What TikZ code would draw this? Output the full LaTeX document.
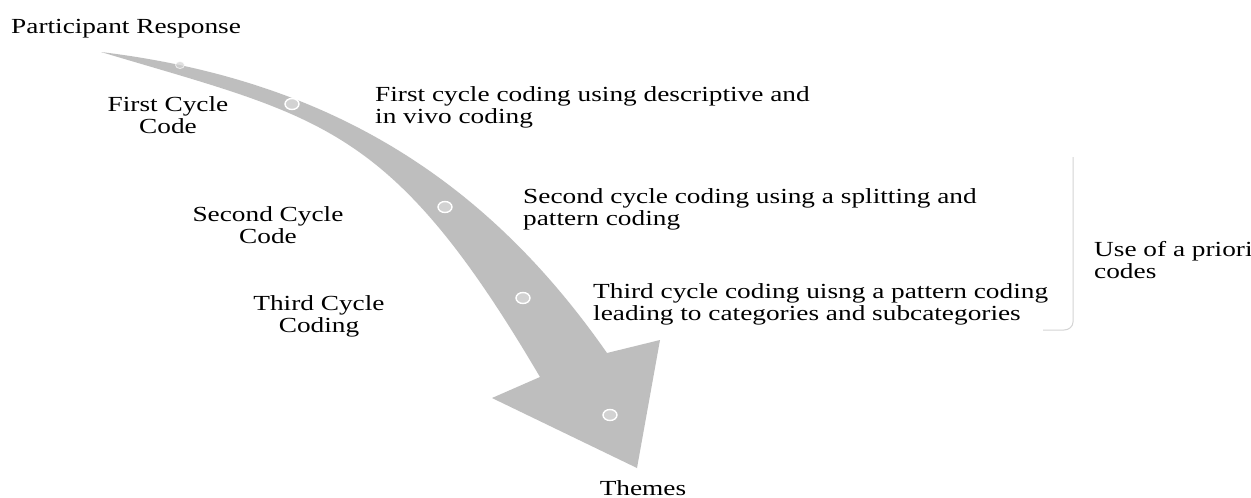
\documentclass[tikz,border=0pt]{standalone}
\usepackage{fontspec}
\setmainfont{Liberation Serif}[FakeStretch=1.27]
\usetikzlibrary{shapes.geometric}
\definecolor{arrowgray}{RGB}{190,190,190}
\definecolor{ringfill}{RGB}{210,210,210}
\definecolor{bracketgray}{RGB}{212,212,212}
\begin{document}
\begin{tikzpicture}[x=1pt,y=-1pt,
  lbl/.style={inner sep=0pt, text=black, font=\fontsize{21.5}{21.5}\selectfont},
  lleft/.style={lbl, align=left, anchor=base west},
  lcenter/.style={lbl, align=center, anchor=base},
  ring/.style={ellipse, draw=white, line width=1.4pt, fill=ringfill, minimum width=14pt, minimum height=11pt, inner sep=0pt},
  smallring/.style={ring, line width=0.8pt, minimum width=9pt, minimum height=7pt, opacity=0.7}]
\useasboundingbox (0,0) rectangle (1251,498);
\fill[white] (0,0) rectangle (1251,498);

% curved arrow
\fill[arrowgray] (101,52) .. controls (331,80) and (487,181) .. (607,353)
  -- (660,340) -- (637,468) -- (492,398) -- (540,377)
  .. controls (390,122) and (321,118) .. (101,52) -- cycle;

% rings on the arrow
\node[smallring] (r1) at (180,65) {};
\node[ring] (r2) at (292,104) {};
\node[ring] (r3) at (445,207) {};
\node[ring] (r4) at (523,298) {};
\node[ring] (r5) at (610,415) {};

% labels (anchor = baseline of last line)
\node[lleft] (pr) at (11,33) {Participant Response};
\node[lcenter] (fcc) at (168,133) {First Cycle\\Code};
\node[lleft] (fcd) at (375,123) {First cycle coding using descriptive and\\in vivo coding};
\node[lcenter] (scc) at (268,243) {Second Cycle\\Code};
\node[lleft] (scd) at (523,225) {Second cycle coding using a splitting and\\pattern coding};
\node[lcenter] (tcc) at (319,332) {Third Cycle\\Coding};
\node[lleft] (tcd) at (593,320) {Third cycle coding uisng a pattern coding\\leading to categories and subcategories};
\node[lleft] (apr) at (1094,278) {Use of a priori\\codes};
\node[lcenter] (th) at (643,495) {Themes};

% bracket
\coordinate (bt) at (1073,157);
\coordinate (bb) at (1073,322);
\coordinate (be) at (1043,330);
\draw[bracketgray, line width=1pt] (bt) -- (bb) to[out=90+180,in=0] (1064,330) -- (be);
\end{tikzpicture}
\end{document}
